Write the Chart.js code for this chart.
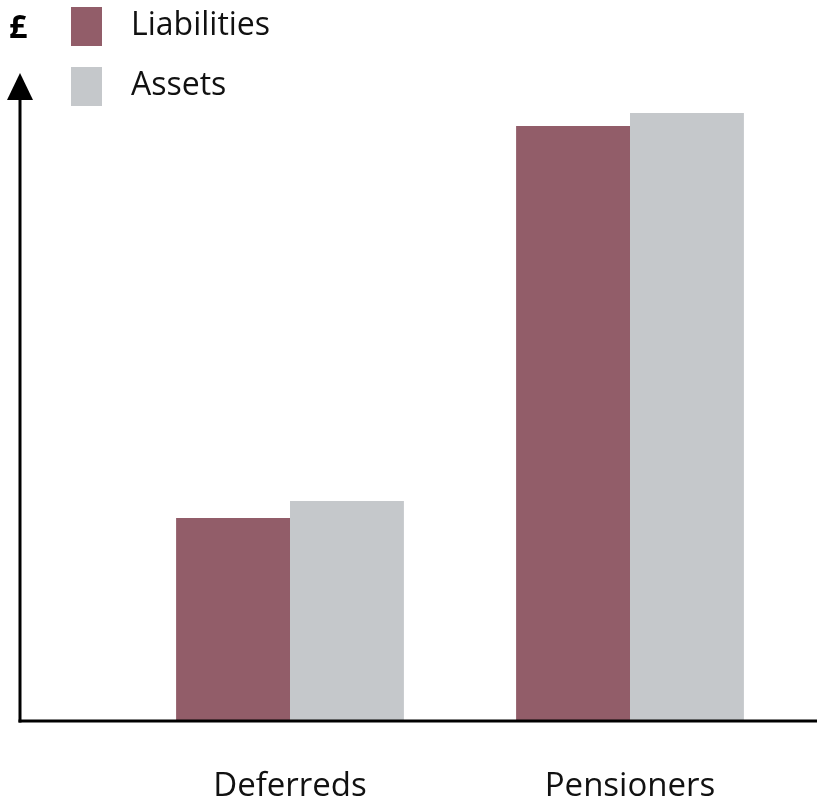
<!DOCTYPE html>
<html>
<head>
<meta charset="utf-8">
<script src="https://cdn.jsdelivr.net/npm/chart.js@4"></script>
<style>
  html, body { margin: 0; padding: 0; background: #fff; }
  #wrap { width: 817px; height: 799px; }
</style>
</head>
<body>
<div id="wrap"><canvas id="myChart"></canvas></div>
<script>
// chart data (arbitrary £ units)
const categories = ['Deferreds', 'Pensioners'];
const liabilities = [202, 594];
const assets = [219, 607];
const yMax = 640;

const FONT = '"Open Sans", sans-serif';

// draws the arrowed axes, the £ sign and the legend in the top left corner
const decorations = {
  id: 'decorations',
  afterDraw(chart) {
    const ctx = chart.ctx;
    const area = chart.chartArea;
    const axisX = area.left - 100;
    const axisY = area.bottom + 1;

    ctx.save();
    ctx.strokeStyle = '#000';
    ctx.fillStyle = '#000';
    ctx.lineWidth = 3;
    // y axis
    ctx.beginPath();
    ctx.moveTo(axisX, axisY + 1.5);
    ctx.lineTo(axisX, 98);
    ctx.stroke();
    // arrow head
    ctx.beginPath();
    ctx.moveTo(axisX, 73);
    ctx.lineTo(axisX - 13, 100);
    ctx.lineTo(axisX + 13, 100);
    ctx.closePath();
    ctx.fill();
    // x axis
    ctx.beginPath();
    ctx.moveTo(axisX - 1.5, axisY);
    ctx.lineTo(chart.width, axisY);
    ctx.stroke();

    // £ sign
    ctx.font = 'bold 32px ' + FONT;
    ctx.textBaseline = 'alphabetic';
    ctx.textAlign = 'left';
    ctx.fillText('£', 9, 38);

    // legend
    ctx.font = '32px ' + FONT;
    chart.data.datasets.forEach((ds, i) => {
      const top = 7 + i * 60;
      ctx.fillStyle = ds.backgroundColor;
      ctx.fillRect(71, top, 31, 39);
      ctx.fillStyle = '#111';
      ctx.fillText(ds.label, 131, top + 28);
    });
    ctx.restore();
  }
};

new Chart(document.getElementById('myChart'), {
  type: 'bar',
  data: {
    labels: categories,
    datasets: [
      { label: 'Liabilities', data: liabilities, backgroundColor: '#925D69' },
      { label: 'Assets', data: assets, backgroundColor: '#C5C8CB' }
    ]
  },
  options: {
    responsive: true,
    maintainAspectRatio: false,
    animation: false,
    events: [],
    categoryPercentage: 0.67,
    barPercentage: 1.0,
    layout: { padding: { left: 120, right: 17, top: 80, bottom: 0 } },
    plugins: {
      legend: { display: false },
      tooltip: { enabled: false }
    },
    scales: {
      x: {
        grid: { display: false, drawTicks: false },
        border: { display: false },
        afterFit(scale) { scale.height = 79; },
        ticks: {
          color: '#111',
          padding: 50,
          font: { family: FONT, size: 33, lineHeight: 1 }
        }
      },
      y: {
        display: false,
        min: 0,
        max: yMax
      }
    }
  },
  plugins: [decorations]
});
</script>
</body>
</html>
